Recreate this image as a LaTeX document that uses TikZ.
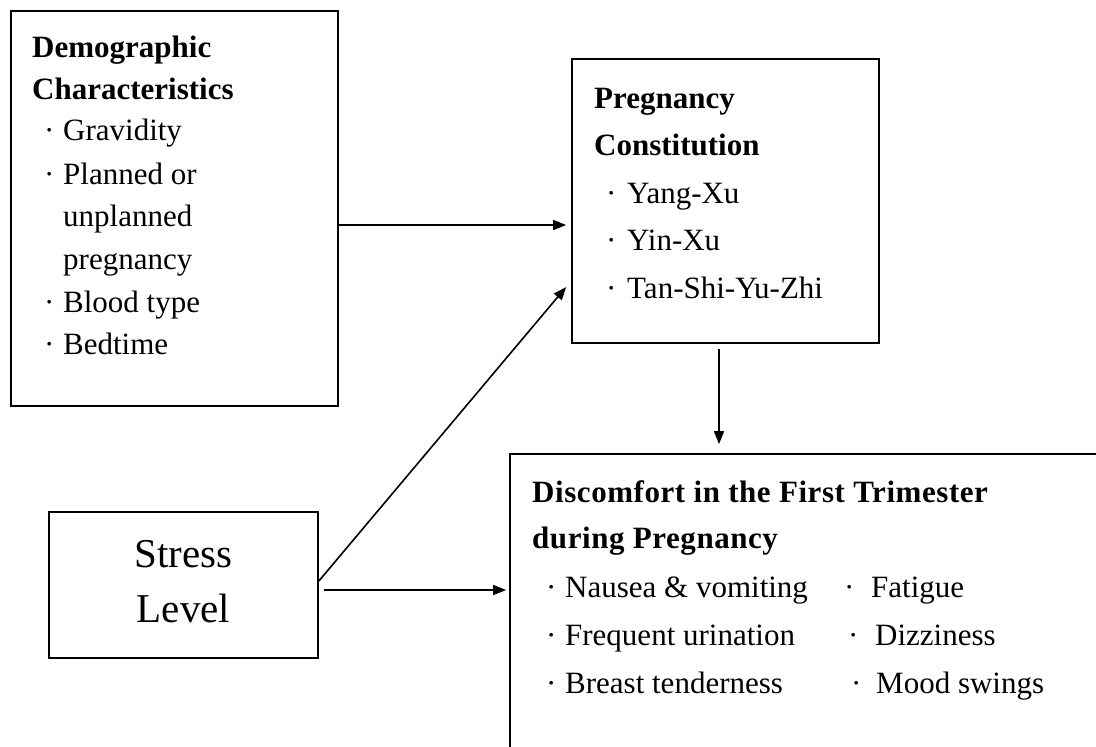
\documentclass[tikz,border=0pt]{standalone}
\usepackage{fontspec}
\setmainfont{Liberation Serif}
\usetikzlibrary{arrows.meta,calc}
\tikzset{
  box/.style={draw, line width=1.7pt, inner sep=0pt, rectangle},
  txt/.style={anchor=base west, inner sep=0pt, font=\fontsize{31}{36}\selectfont},
  ttl/.style={anchor=base west, inner sep=0pt, font=\fontsize{31}{36}\selectfont\bfseries},
  big/.style={anchor=base, inner sep=0pt, font=\fontsize{41}{48}\selectfont},
  arr/.style={line width=1.6pt, -{Triangle[length=13pt,width=10pt]}}
}
\newcommand{\bul}[2]{\makebox[#1pt][l]{·}#2}
\begin{document}
\begin{tikzpicture}[x=1pt,y=-1pt]
\useasboundingbox (0,0) rectangle (1096,747);
\clip (0,0) rectangle (1096,747);
% boxes
\node[box, minimum width=327pt, minimum height=395pt] (demo) at (174.5,208.5) {};
\node[box, minimum width=307pt, minimum height=284pt] (preg) at (725.5,201) {};
\node[box, minimum width=269pt, minimum height=146pt] (stress) at (183.5,585) {};
\node[box, minimum width=610pt, minimum height=316pt] (disc) at (815,612) {};
% demographic
\node[ttl] (d1) at (32,57) {Demographic};
\node[ttl] (d2) at (32,99) {Characteristics};
\node[txt] (d3) at (44,140) {\bul{19}{Gravidity}};
\node[txt] (d4) at (44,184) {\bul{19}{Planned or}};
\node[txt] (d5) at (63,226) {unplanned};
\node[txt] (d6) at (63,269) {pregnancy};
\node[txt] (d7) at (44,312) {\bul{19}{Blood type}};
\node[txt] (d8) at (44,354) {\bul{19}{Bedtime}};
% pregnancy constitution
\node[ttl] (p1) at (594,108) {Pregnancy};
\node[ttl] (p2) at (594,155) {Constitution};
\node[txt] (p3) at (606,203) {\bul{21}{Yang-Xu}};
\node[txt] (p4) at (606,250) {\bul{21}{Yin-Xu}};
\node[txt] (p5) at (606,298) {\bul{21}{Tan-Shi-Yu-Zhi}};
% stress
\node[big] (s1) at (183.5,567) {Stress};
\node[big] (s2) at (183.5,622) {Level};
% discomfort
\node[ttl] (c1) at (532,502) {\addfontfeature{LetterSpace=1.8}Discomfort in the First Trimester};
\node[ttl] (c2) at (532,548) {\addfontfeature{LetterSpace=1.8}during Pregnancy};
\node[txt] (c3) at (546,597) {\bul{19}{Nausea \& vomiting}};
\node[txt] (c4) at (546,645) {\bul{19}{Frequent urination}};
\node[txt] (c5) at (546,693) {\bul{19}{Breast tenderness}};
\node[txt] (c6) at (844,597) {\bul{27}{Fatigue}};
\node[txt] (c7) at (848,645) {\bul{27}{Dizziness}};
\node[txt] (c8) at (851,693) {\bul{25}{Mood swings}};
% arrows
\draw[arr] ($(demo.east)+(0,16.5)$) -- ($(preg.west)+(-5,24)$);
\draw[arr] ($(stress.east)+(0,-4)$) -- ($(preg.west)+(-5,86)$);
\draw[arr] ($(stress.east)+(5,5)$) -- ($(disc.west)+(-3,-22)$);
\draw[arr] ($(preg.south)+(-6.5,5)$) -- ($(preg.south |- disc.north)+(-6.5,-9)$);
\end{tikzpicture}
\end{document}
